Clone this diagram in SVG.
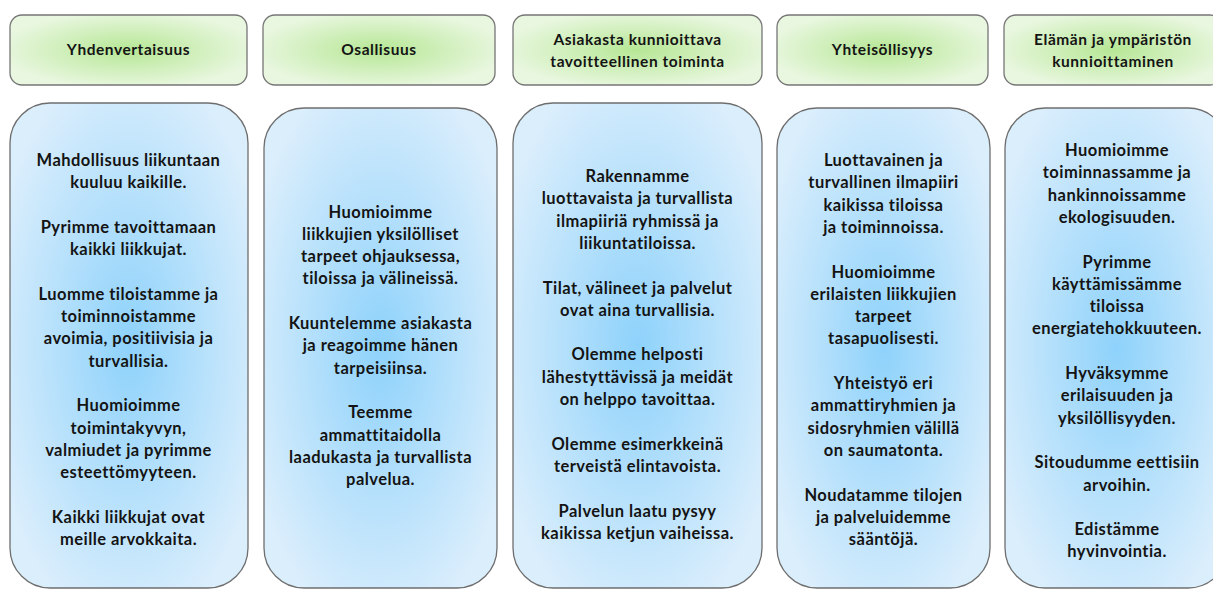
<svg xmlns="http://www.w3.org/2000/svg" width="1213" height="590" viewBox="0 0 1213 590">
<defs>
<radialGradient id="gGreen" cx="0.5" cy="0.5" r="0.55">
<stop offset="0" stop-color="#b6e795"/>
<stop offset="1" stop-color="#e9f7e0"/>
</radialGradient>
<radialGradient id="gBlue" cx="0.5" cy="0.5" r="0.6">
<stop offset="0" stop-color="#8ed2fb"/>
<stop offset="1" stop-color="#dbeefc"/>
</radialGradient>
<style>
.hdr{fill:url(#gGreen);stroke:#767676;stroke-width:1.3}
.body{fill:url(#gBlue);stroke:#6e6e6e;stroke-width:1.3}
text{font-family:Lato,"Liberation Sans",sans-serif;font-weight:bold;fill:#141414;text-anchor:middle}
.h{font-size:15.5px;letter-spacing:0.55px}
.b{font-size:16.5px;letter-spacing:0.45px}
</style>
</defs>
<rect width="1213" height="590" fill="#ffffff"/>
<g id="connectors"/>
<g id="header1">
<rect class="hdr" x="10" y="15" width="237" height="70" rx="12"/>
<text class="h" x="128.5" y="55">Yhdenvertaisuus</text>
</g>
<g id="header2">
<rect class="hdr" x="263" y="15" width="232" height="70" rx="12"/>
<text class="h" x="379" y="55">Osallisuus</text>
</g>
<g id="header3">
<rect class="hdr" x="513" y="15" width="249" height="70" rx="12"/>
<text class="h" x="637.5" y="45">Asiakasta kunnioittava</text>
<text class="h" x="637.5" y="67">tavoitteellinen toiminta</text>
</g>
<g id="header4">
<rect class="hdr" x="777" y="15" width="211" height="70" rx="12"/>
<text class="h" x="882.5" y="55">Yhteisöllisyys</text>
</g>
<g id="header5">
<rect class="hdr" x="1004" y="15" width="218" height="70" rx="12"/>
<text class="h" x="1113" y="45">Elämän ja ympäristön</text>
<text class="h" x="1113" y="67">kunnioittaminen</text>
</g>
<g id="body1">
<rect class="body" x="10" y="103" width="238" height="485" rx="40"/>
<text class="b" x="128.5" y="166">Mahdollisuus liikuntaan</text>
<text class="b" x="128.5" y="188.3">kuuluu kaikille.</text>
<text class="b" x="128.5" y="232.9">Pyrimme tavoittamaan</text>
<text class="b" x="128.5" y="255.2">kaikki liikkujat.</text>
<text class="b" x="128.5" y="299.8">Luomme tiloistamme ja</text>
<text class="b" x="128.5" y="322.1">toiminnoistamme</text>
<text class="b" x="128.5" y="344.4">avoimia, positiivisia ja</text>
<text class="b" x="128.5" y="366.7">turvallisia.</text>
<text class="b" x="128.5" y="411.3">Huomioimme</text>
<text class="b" x="128.5" y="433.6">toimintakyvyn,</text>
<text class="b" x="128.5" y="455.9">valmiudet ja pyrimme</text>
<text class="b" x="128.5" y="478.2">esteettömyyteen.</text>
<text class="b" x="128.5" y="522.8">Kaikki liikkujat ovat</text>
<text class="b" x="128.5" y="545.1">meille arvokkaita.</text>
</g>
<g id="body2">
<rect class="body" x="264" y="108" width="233" height="480" rx="40"/>
<text class="b" x="380.5" y="217.5">Huomioimme</text>
<text class="b" x="380.5" y="239.8">liikkujien yksilölliset</text>
<text class="b" x="380.5" y="262.1">tarpeet ohjauksessa,</text>
<text class="b" x="380.5" y="284.4">tiloissa ja välineissä.</text>
<text class="b" x="380.5" y="329">Kuuntelemme asiakasta</text>
<text class="b" x="380.5" y="351.3">ja reagoimme hänen</text>
<text class="b" x="380.5" y="373.6">tarpeisiinsa.</text>
<text class="b" x="380.5" y="418.2">Teemme</text>
<text class="b" x="380.5" y="440.5">ammattitaidolla</text>
<text class="b" x="380.5" y="462.8">laadukasta ja turvallista</text>
<text class="b" x="380.5" y="485.1">palvelua.</text>
</g>
<g id="body3">
<rect class="body" x="513" y="103" width="249" height="485" rx="40"/>
<text class="b" x="637.5" y="182">Rakennamme</text>
<text class="b" x="637.5" y="204.3">luottavaista ja turvallista</text>
<text class="b" x="637.5" y="226.6">ilmapiiriä ryhmissä ja</text>
<text class="b" x="637.5" y="248.9">liikuntatiloissa.</text>
<text class="b" x="637.5" y="293.5">Tilat, välineet ja palvelut</text>
<text class="b" x="637.5" y="315.8">ovat aina turvallisia.</text>
<text class="b" x="637.5" y="360.4">Olemme helposti</text>
<text class="b" x="637.5" y="382.7">lähestyttävissä ja meidät</text>
<text class="b" x="637.5" y="405">on helppo tavoittaa.</text>
<text class="b" x="637.5" y="449.6">Olemme esimerkkeinä</text>
<text class="b" x="637.5" y="471.9">terveistä elintavoista.</text>
<text class="b" x="637.5" y="516.5">Palvelun laatu pysyy</text>
<text class="b" x="637.5" y="538.8">kaikissa ketjun vaiheissa.</text>
</g>
<g id="body4">
<rect class="body" x="777" y="108" width="213" height="480" rx="40"/>
<text class="b" x="883.5" y="166">Luottavainen ja</text>
<text class="b" x="883.5" y="188.3">turvallinen ilmapiiri</text>
<text class="b" x="883.5" y="210.6">kaikissa tiloissa</text>
<text class="b" x="883.5" y="232.9">ja toiminnoissa.</text>
<text class="b" x="883.5" y="277.5">Huomioimme</text>
<text class="b" x="883.5" y="299.8">erilaisten liikkujien</text>
<text class="b" x="883.5" y="322.1">tarpeet</text>
<text class="b" x="883.5" y="344.4">tasapuolisesti.</text>
<text class="b" x="883.5" y="389">Yhteistyö eri</text>
<text class="b" x="883.5" y="411.3">ammattiryhmien ja</text>
<text class="b" x="883.5" y="433.6">sidosryhmien välillä</text>
<text class="b" x="883.5" y="455.9">on saumatonta.</text>
<text class="b" x="883.5" y="500.5">Noudatamme tilojen</text>
<text class="b" x="883.5" y="522.8">ja palveluidemme</text>
<text class="b" x="883.5" y="545.1">sääntöjä.</text>
</g>
<g id="body5">
<rect class="body" x="1005" y="108" width="223" height="480" rx="40"/>
<text class="b" x="1117" y="156">Huomioimme</text>
<text class="b" x="1117" y="178.3">toiminnassamme ja</text>
<text class="b" x="1117" y="200.6">hankinnoissamme</text>
<text class="b" x="1117" y="222.9">ekologisuuden.</text>
<text class="b" x="1117" y="267.5">Pyrimme</text>
<text class="b" x="1117" y="289.8">käyttämissämme</text>
<text class="b" x="1117" y="312.1">tiloissa</text>
<text class="b" x="1117" y="334.4">energiatehokkuuteen.</text>
<text class="b" x="1117" y="379">Hyväksymme</text>
<text class="b" x="1117" y="401.3">erilaisuuden ja</text>
<text class="b" x="1117" y="423.6">yksilöllisyyden.</text>
<text class="b" x="1117" y="468.2">Sitoudumme eettisiin</text>
<text class="b" x="1117" y="490.5">arvoihin.</text>
<text class="b" x="1117" y="535.1">Edistämme</text>
<text class="b" x="1117" y="557.4">hyvinvointia.</text>
</g>
</svg>
